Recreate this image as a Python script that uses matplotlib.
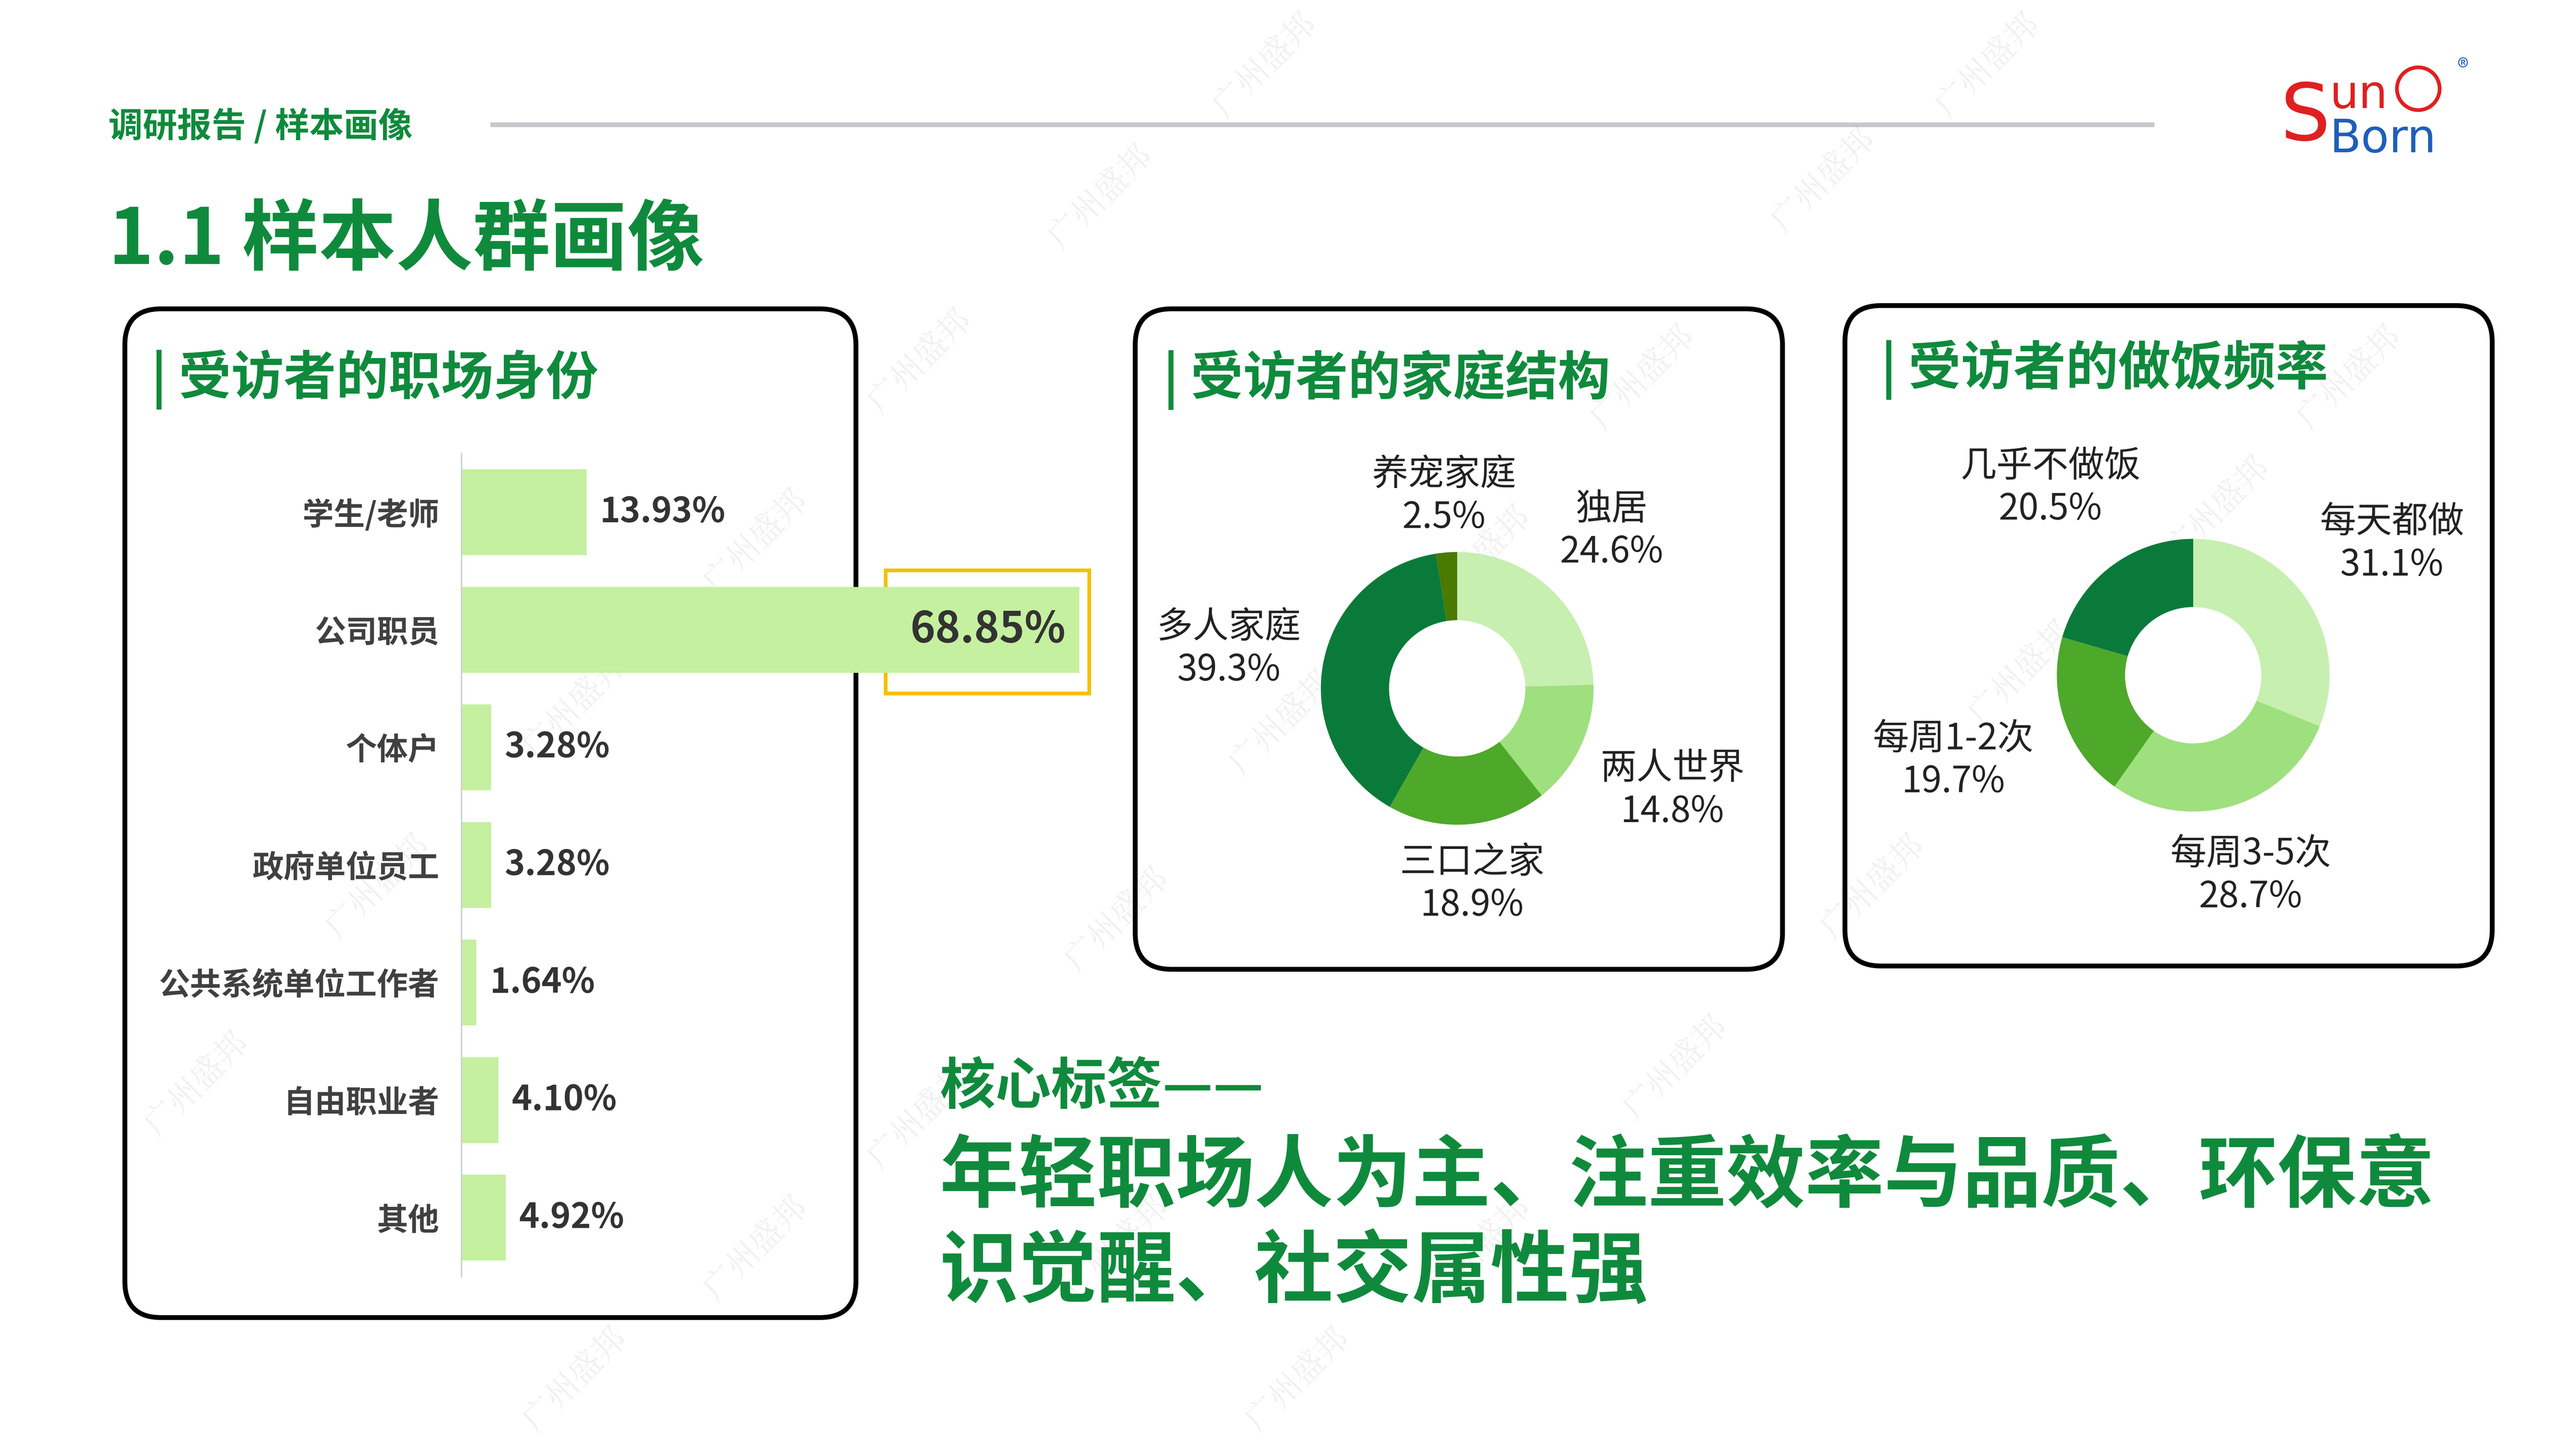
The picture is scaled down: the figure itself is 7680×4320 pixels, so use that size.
import matplotlib
matplotlib.use("Agg")
import matplotlib.pyplot as plt
from matplotlib.patches import FancyBboxPatch, Rectangle

plt.rcParams['font.family'] = ['Noto Sans CJK SC', 'DejaVu Sans']

# ---- data ----
job_labels = ["学生/老师", "公司职员", "个体户", "政府单位员工", "公共系统单位工作者", "自由职业者", "其他"]
job_values = [13.93, 68.85, 3.28, 3.28, 1.64, 4.10, 4.92]

family_labels = ["独居", "两人世界", "三口之家", "多人家庭", "养宠家庭"]
family_values = [24.6, 14.8, 18.9, 39.3, 2.5]
family_colors = ["#c6efb0", "#9ee07d", "#4ea82a", "#0a7a3a", "#4a7a00"]

cook_labels = ["每天都做", "每周3-5次", "每周1-2次", "几乎不做饭"]
cook_values = [31.1, 28.7, 19.7, 20.5]
cook_colors = ["#c6efb0", "#9ee07d", "#4ea82a", "#0a7a3a"]

W, H = 1568, 882
fig = plt.figure(figsize=(19.2, 10.8), dpi=400)
bg = fig.add_axes([0, 0, 1, 1])
bg.set_xlim(0, W); bg.set_ylim(H, 0); bg.axis('off')

def fs(px):
    return px * 0.88

GREEN = "#0f8a3c"

# watermarks
for (x, y) in [(560, 220), (460, 330), (670, 120), (770, 40), (1110, 110), (1210, 40), (1430, 230),
               (350, 430), (230, 540), (120, 660), (460, 760), (350, 840), (560, 680), (680, 560),
               (780, 440), (900, 340), (1000, 230), (1230, 410), (1350, 310), (1140, 540), (1020, 650),
               (900, 760), (790, 840), (680, 760)]:
    bg.text(x, y, "广州盛邦", fontsize=fs(20), color="#000000", alpha=0.06, rotation=45,
            ha='center', va='center', family=['Noto Serif CJK SC', 'Noto Sans CJK SC'])

# header
bg.text(66, 77, "调研报告 / 样本画像", fontsize=fs(21), color=GREEN, weight='bold', va='center')
bg.plot([300, 1310], [76, 76], color="#c8c8cc", lw=2.5)
bg.text(66, 147, "1.1 样本人群画像", fontsize=fs(47), color=GREEN, weight='bold', va='center')
# logo
bg.text(1388, 72, "S", fontsize=fs(48), color="#e02020", va='center', family='DejaVu Sans')
bg.text(1418, 58, "un", fontsize=fs(28), color="#e02020", va='center', family='DejaVu Sans')
bg.text(1418, 85, "Born", fontsize=fs(28), color="#1f5fb8", va='center', family='DejaVu Sans')
bg.add_patch(plt.Circle((1472, 54), 13, fill=False, ec="#e02020", lw=2))
bg.text(1499, 42, "®", fontsize=fs(14), color="#1f5fb8", va='center', ha='center')

# panels
for (x0, y0, x1, y1) in [(76, 188, 521, 802), (691, 188, 1085, 590), (1123, 186, 1517, 588)]:
    bg.add_patch(FancyBboxPatch((x0, y0), x1 - x0, y1 - y0, boxstyle="round,pad=0,rounding_size=22",
                                fill=False, ec="black", lw=2.6))
bg.text(92, 231, "| 受访者的职场身份", fontsize=fs(32), color=GREEN, weight='bold', va='center')
bg.text(708, 231, "| 受访者的家庭结构", fontsize=fs(32), color=GREEN, weight='bold', va='center')
bg.text(1145, 225, "| 受访者的做饭频率", fontsize=fs(32), color=GREEN, weight='bold', va='center')

# bar chart
ax = fig.add_axes([281 / W, 1 - 777 / H, (660 - 281) / W, (777 - 276) / H])
ax.patch.set_alpha(0)
ypos = list(range(len(job_values)))
ax.barh(ypos, job_values, height=0.73, color="#c5f09f")
ax.set_xlim(0, 69.4)
ax.set_ylim(len(job_values) - 0.5, -0.5)
ax.set_xticks([])
ax.set_yticks(ypos)
ax.set_yticklabels(job_labels, fontsize=fs(19), color="#404040", weight='bold')
ax.tick_params(axis='y', length=0, pad=12)
for s in ['top', 'right', 'bottom']:
    ax.spines[s].set_visible(False)
ax.spines['left'].set_color("#d0d0d0")
for i, v in enumerate(job_values):
    if v > 50:
        ax.text(v - 1.5, i, f"{v:.2f}%", ha='right', va='center', fontsize=fs(26), color="#333333", weight='bold')
    else:
        ax.text(v + 1.5, i, f"{v:.2f}%", ha='left', va='center', fontsize=fs(21), color="#333333", weight='bold')
bg.add_patch(Rectangle((539, 347), 124, 75, fill=False, ec="#f5c000", lw=2))

# donuts
def donut(cx, cy, r, vals, cols):
    a = fig.add_axes([(cx - r) / W, 1 - (cy + r) / H, 2 * r / W, 2 * r / H])
    a.pie(vals, colors=cols, startangle=90, counterclock=False, radius=1,
          wedgeprops=dict(width=0.5, edgecolor='none'))
    a.set_xlim(-1, 1); a.set_ylim(-1, 1)
    a.set_aspect('equal'); a.axis('off')

donut(887, 419, 83, family_values, family_colors)
donut(1335, 411, 83, cook_values, cook_colors)

def lab(x, y, name, v):
    bg.text(x, y, f"{name}\n{v}%", ha='center', va='center', fontsize=fs(22), color="#222222", linespacing=1.2)

lab(981, 323, family_labels[0], family_values[0])
lab(1018, 481, family_labels[1], family_values[1])
lab(896, 538, family_labels[2], family_values[2])
lab(748, 395, family_labels[3], family_values[3])
lab(879, 302, family_labels[4], family_values[4])

lab(1456, 331, cook_labels[0], cook_values[0])
lab(1370, 533, cook_labels[1], cook_values[1])
lab(1189, 463, cook_labels[2], cook_values[2])
lab(1248, 297, cook_labels[3], cook_values[3])

# core tags
bg.text(572, 662, "核心标签——", fontsize=fs(34), color=GREEN, weight='bold', va='center')
bg.text(572, 717, "年轻职场人为主、注重效率与品质、环保意", fontsize=fs(48), color=GREEN, weight='bold', va='center')
bg.text(572, 775, "识觉醒、社交属性强", fontsize=fs(48), color=GREEN, weight='bold', va='center')

fig.savefig("out.png", dpi=400, facecolor='white')
